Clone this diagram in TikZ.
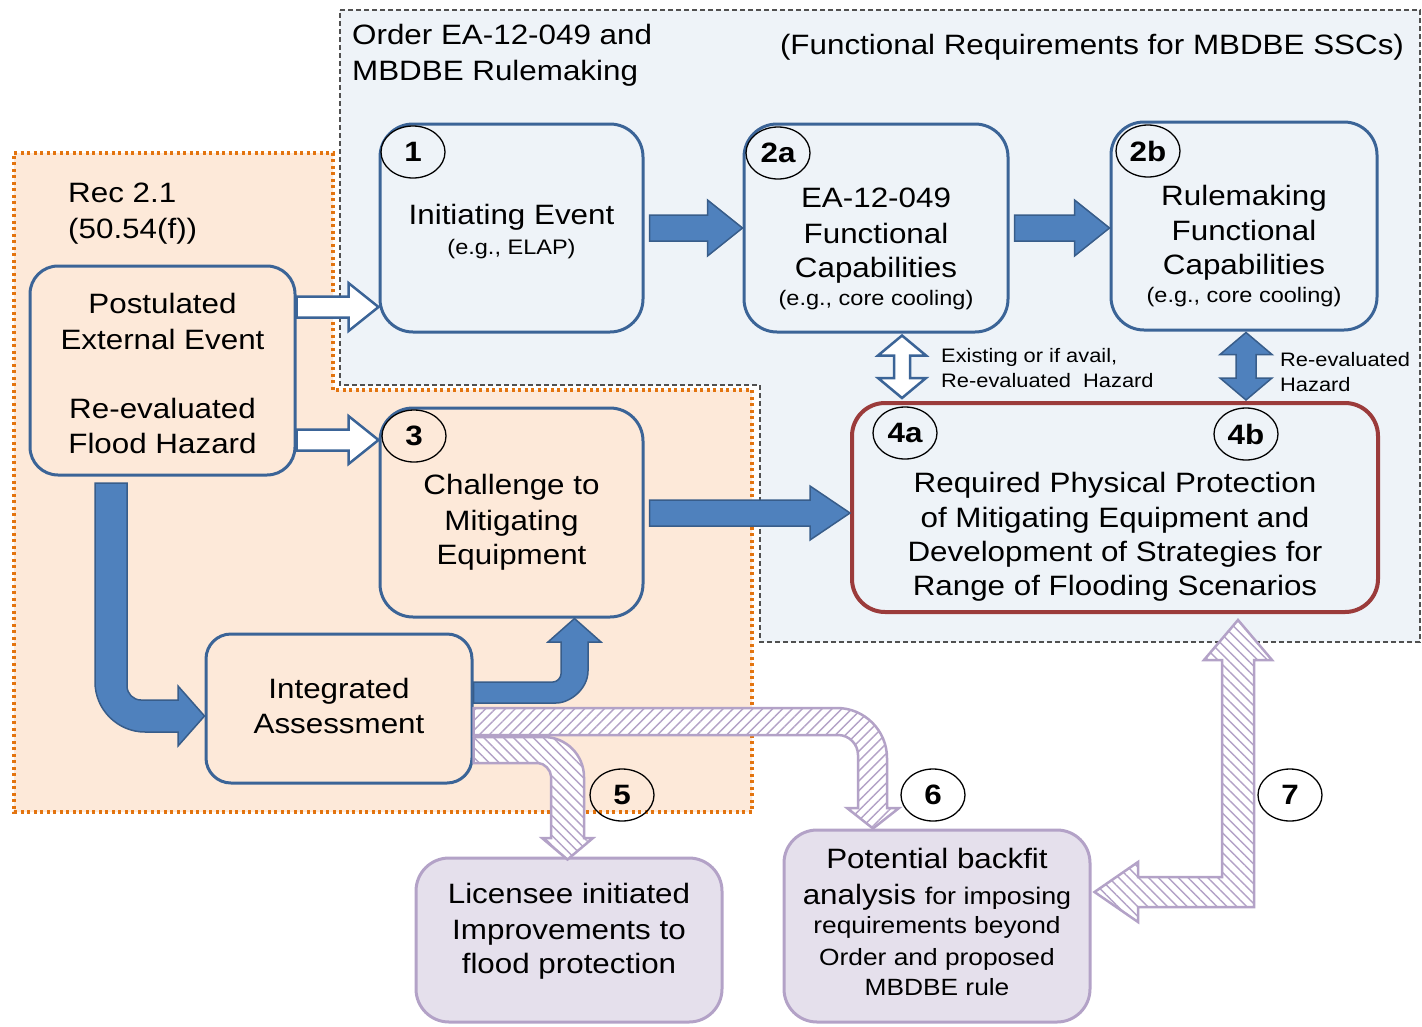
\documentclass[tikz,border=0pt]{standalone}
\usepackage{fontspec}
\setmainfont{Liberation Sans}[FakeStretch=1.12]
\usetikzlibrary{shapes.geometric, arrows.meta, positioning, calc, patterns.meta}

\definecolor{regionblue}{HTML}{EEF3F8}
\definecolor{regionpeach}{HTML}{FDE9D9}
\definecolor{boxline}{HTML}{3B6497}
\definecolor{arrowfill}{HTML}{4F81BD}
\definecolor{arrowline}{HTML}{385D8A}
\definecolor{redline}{HTML}{9B3B3B}
\definecolor{lavfill}{HTML}{E5E0EC}
\definecolor{lavline}{HTML}{B3A2C7}
\definecolor{dotorange}{HTML}{E3740F}
\definecolor{dashgray}{HTML}{505050}

\newcommand{\fs}[2]{\fontsize{#1}{#2}\selectfont}

% straight block arrow: style, start, tip, shaft half width, head half width, head length
\newcommand{\blockarrow}[6]{%
  \path #2 coordinate (ba-s) #3 coordinate (ba-t);
  \path ($(ba-t)!#6!(ba-s)$) coordinate (ba-b);
  \draw[#1] ($(ba-s)!#4!90:(ba-t)$) -- ($(ba-b)!#4!-90:(ba-s)$) -- ($(ba-b)!#5!-90:(ba-s)$) -- (ba-t)
    -- ($(ba-b)!#5!90:(ba-s)$) -- ($(ba-b)!#4!90:(ba-s)$) -- ($(ba-s)!#4!-90:(ba-t)$) -- cycle;
}
% block arrow with a head at both ends
\newcommand{\dblarrow}[6]{%
  \path #2 coordinate (da-a) #3 coordinate (da-b);
  \path ($(da-a)!#6!(da-b)$) coordinate (da-p) ($(da-b)!#6!(da-a)$) coordinate (da-q);
  \draw[#1] (da-a) -- ($(da-p)!#5!90:(da-b)$) -- ($(da-p)!#4!90:(da-b)$) -- ($(da-q)!#4!-90:(da-a)$)
    -- ($(da-q)!#5!-90:(da-a)$) -- (da-b) -- ($(da-q)!#5!90:(da-a)$) -- ($(da-q)!#4!90:(da-a)$)
    -- ($(da-p)!#4!-90:(da-b)$) -- ($(da-p)!#5!-90:(da-b)$) -- cycle;
}

\begin{document}
\begin{tikzpicture}[
    x=1pt, y=-1pt,
    stage/.style={rectangle, rounded corners=33pt, draw=boxline, line width=3pt, fill=regionblue},
    boxtext/.style={align=center, inner sep=0pt, font=\fs{28}{35}},
    note/.style={align=left, anchor=west, inner sep=0pt, font=\fs{28}{36}},
    badge/.style={ellipse, draw=black, line width=1.3pt, minimum width=64pt, minimum height=52pt, inner sep=0pt, font=\fs{28}{34}\bfseries},
    solidarrow/.style={fill=arrowfill, draw=arrowline, line width=1.5pt},
    openarrow/.style={fill=white, draw=boxline, line width=2.5pt},
    hatchne/.style={preaction={fill=white}, pattern={Lines[angle=45, distance=7pt, line width=1.4pt]}, pattern color=lavline, draw=lavline, line width=2.5pt},
    hatchnw/.style={preaction={fill=white}, pattern={Lines[angle=-45, distance=7pt, line width=1.4pt]}, pattern color=lavline, draw=lavline, line width=2.5pt}
]
\useasboundingbox (0,0) rectangle (1422,1026);

% Regions
\draw[fill=regionblue, draw=dashgray, line width=1.3pt, dash pattern=on 5pt off 3pt]
  (340,10) -- (1420,10) -- (1420,642) -- (760,642) -- (760,385) -- (340,385) -- cycle;
\draw[fill=regionpeach, draw=dotorange, line width=3.2pt, dash pattern=on 3pt off 3.5pt]
  (14,153) -- (333,153) -- (333,390) -- (752,390) -- (752,812) -- (14,812) -- cycle;

\node[note] (order) at (352,55) {Order EA-12-049 and\\MBDBE Rulemaking};
\node[boxtext] (frq) at (1092,47) {(Functional Requirements for MBDBE SSCs)};
\node[note] (rec) at (68,214) {Rec 2.1\\(50.54(f))};

% Nodes
\node[stage, fill=regionpeach, rounded corners=28pt, minimum width=265pt, minimum height=209pt] (post) at (162.5,370.5) {};
\node[stage, minimum width=263pt, minimum height=208pt] (init) at (511.5,228) {};
\node[stage, minimum width=264pt, minimum height=208pt] (ea) at (876,228) {};
\node[stage, minimum width=266pt, minimum height=208pt] (rm) at (1244,226) {};
\node[stage, fill=regionpeach, minimum width=263pt, minimum height=209pt] (chal) at (511.5,512.5) {};
\node[stage, fill=regionpeach, rounded corners=25pt, minimum width=266pt, minimum height=149pt] (ia) at (339,708.5) {};
\node[stage, draw=redline, line width=4pt, minimum width=526pt, minimum height=209pt] (req) at (1115,507.5) {};
\node[stage, fill=lavfill, draw=lavline, minimum width=306pt, minimum height=164pt] (lic) at (569,940) {};
\node[stage, fill=lavfill, draw=lavline, minimum width=306pt, minimum height=192pt] (bf) at (937,926) {};

\node[boxtext] (post-t) at (162.5,373) {Postulated\\[1pt]External Event\\[34pt]Re-evaluated\\Flood Hazard};
\node[boxtext] (init-t) at (511.5,232) {Initiating Event\\[-5pt]\fs{21}{26}(e.g., ELAP)};
\node[boxtext] (ea-t) at (876,249) {EA-12-049\\[1pt]Functional\\[-1pt]Capabilities\\[-7pt]\fs{21}{26}(e.g., core cooling)};
\node[boxtext] (rm-t) at (1244,246) {Rulemaking\\Functional\\[-1pt]Capabilities\\[-7pt]\fs{21}{26}(e.g., core cooling)};
\node[boxtext] (chal-t) at (511.5,522) {Challenge to\\[1pt]Mitigating\\[-1pt]Equipment};
\node[boxtext] (ia-t) at (339,706) {Integrated\\Assessment};
\node[boxtext] (req-t) at (1115,537) {Required Physical Protection\\of Mitigating Equipment and\\[-1pt]Development of Strategies for\\[-1pt]Range of Flooding Scenarios};
\node[boxtext] (lic-t) at (569,931) {Licensee initiated\\[1pt]Improvements to\\[-1pt]flood protection};
\node[boxtext] (bf-t) at (937,922) {Potential backfit\\[1pt]analysis \fs{24}{30}for imposing\\[-6pt]\fs{23.5}{30}requirements beyond\\[-3pt]\fs{23.5}{30}Order and proposed\\[-5pt]\fs{23.5}{30}MBDBE rule};

\node[note, font=\fs{19.5}{25}] (exist) at (941,368) {Existing or if avail,\\Re-evaluated\ \ Hazard};
\node[note, font=\fs{19.5}{25}] (reev) at (1280,372) {Re-evaluated\\Hazard};

% Arrows
\blockarrow{openarrow}{(post.east |- 0,307)}{(init.west |- 0,307)}{10.5pt}{24pt}{30pt}
\blockarrow{openarrow}{(post.east |- 0,440)}{(chal.west |- 0,440)}{10.5pt}{24pt}{30pt}
\blockarrow{solidarrow}{([xshift=5pt]init.east)}{(ea.west)}{13pt}{28pt}{35pt}
\blockarrow{solidarrow}{([xshift=5pt]ea.east)}{(rm.west |- ea.east)}{13pt}{28pt}{35pt}
\blockarrow{solidarrow}{($(chal.east |- 0,513)+(5,0)$)}{(req.west |- 0,513)}{13pt}{27pt}{40pt}
\dblarrow{openarrow}{($(ea.south)+(26,2)$)}{($(ea.south |- req.north)+(26,-3)$)}{8pt}{24pt}{20pt}
\dblarrow{solidarrow}{($(rm.south)+(2,1)$)}{($(rm.south |- req.north)+(2,-1)$)}{10pt}{26pt}{22pt}

\draw[solidarrow] (95,483) -- (95,682) .. controls (95,709.5) and (117.5,732) .. (145,732) -- (178,732) -- (178,746)
  -- (ia.west |- 0,716) -- (178,686) -- (178,700) -- (141,700) .. controls (133.3,700) and (127,693.7) .. (127,686) -- (127,483) -- cycle;
\draw[solidarrow] (ia.east |- 0,682) -- (553,682) .. controls (557.4,682) and (561,677.6) .. (561,674) -- (561,642) -- (548,642)
  -- (chal.south -| 574.5,0) -- (601,642) -- (588,642) -- (588,671) .. controls (588,688.6) and (570.4,703) .. (556,703) -- (ia.east |- 0,703) -- cycle;

\draw[hatchne] (ia.east |- 0,708) -- (837,708) .. controls (864.5,708) and (887,730.5) .. (887,758) -- (887,808) -- (899,808)
  -- (bf.north -| 873,0) -- (847,808) -- (858,808) -- (858,755) .. controls (858,744) and (849,735) .. (838,735) -- (ia.east |- 0,735) -- cycle;
\draw[hatchnw] (ia.east |- 0,737) -- (544,737) .. controls (566,737) and (584,755) .. (584,777) -- (584,838) -- (593,838)
  -- ($(lic.north -| 567.5,0)+(0,3)$) -- (542,838) -- (551,838) -- (551,776) .. controls (551,770.2) and (544.2,763) .. (538,763) -- (ia.east |- 0,763) -- cycle;
\draw[hatchnw] ($(req.south -| 1238,0)+(0,6)$) -- (1272,660) -- (1254,660) -- (1254,907) -- (1138,907) -- (1138,922)
  -- ($(bf.east |- 0,892)+(3,0)$) -- (1138,862) -- (1138,877) -- (1222,877) -- (1222,660) -- (1204,660) -- cycle;

% Badges
\node[badge, fill=regionblue] (n1) at (413,152) {1};
\node[badge, fill=regionblue] (n2a) at (778,153) {2a};
\node[badge, fill=regionblue] (n2b) at (1148,151) {2b};
\node[badge, fill=regionpeach] (n3) at (414,436) {3};
\node[badge, fill=regionblue] (n4a) at (905,433) {4a};
\node[badge, fill=regionblue] (n4b) at (1246,434) {4b};
\node[badge] (n5) at (622,795) {5};
\node[badge] (n6) at (933,795) {6};
\node[badge] (n7) at (1290,795) {7};

\end{tikzpicture}
\end{document}
